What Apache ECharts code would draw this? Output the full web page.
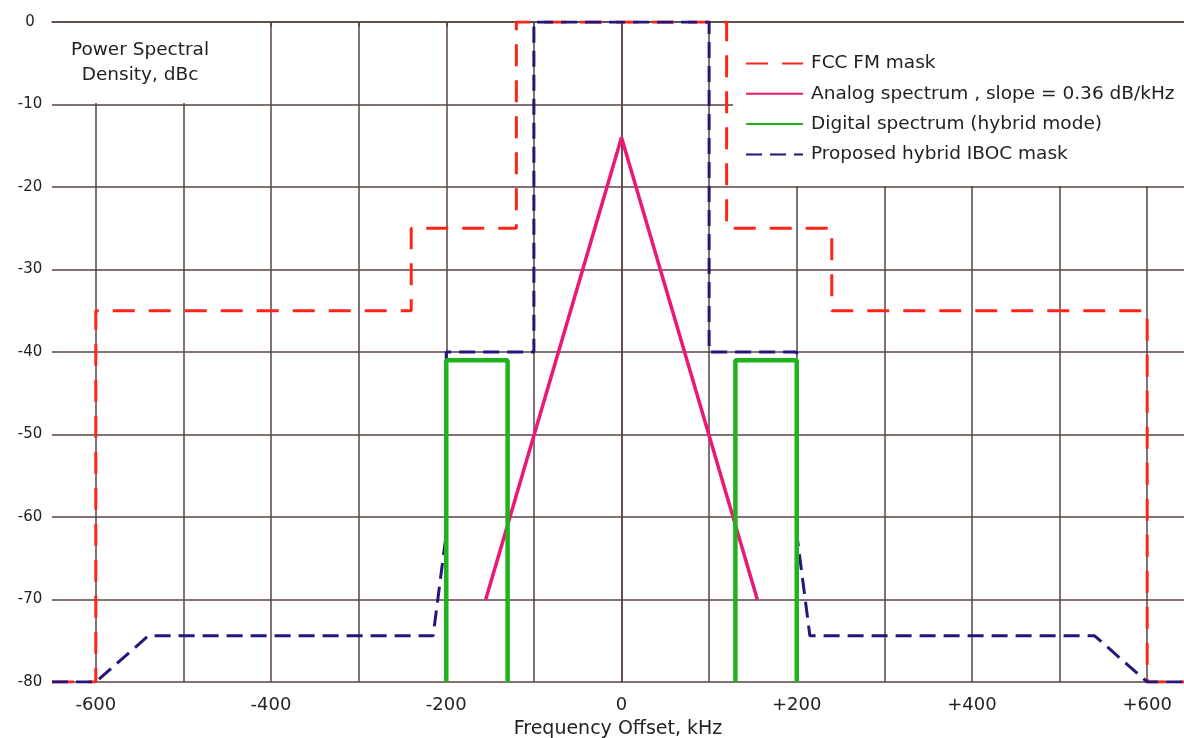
<!DOCTYPE html>
<html>
<head>
<meta charset="utf-8">
<script src="https://cdn.jsdelivr.net/npm/echarts@6/dist/echarts.min.js"></script>
<style>
  html, body { margin: 0; padding: 0; background: #fff; }
  #chart { width: 1184px; height: 738px; }
</style>
</head>
<body>
<div id="chart"></div>
<script>
// axis ticks, kHz / dBc
const xGridTicks = [-600, -500, -400, -300, -200, -100, 0, 100, 200, 300, 400, 500, 600];
const xLabelTicks = [-600, -400, -200, 0, 200, 400, 600];

// [offset kHz, level dBc]
const fccMask = [
  [-650, -80], [-600, -80], [-600, -35], [-240, -35], [-240, -25], [-120, -25], [-120, 0],
  [120, 0], [120, -25], [240, -25], [240, -35], [600, -35], [600, -80], [650, -80]
];
const analogSpectrum = [[-155, -70], [0, -14], [155, -70]];
const digitalLower = [[-200, -80], [-200, -41], [-130, -41], [-130, -80]];
const digitalUpper = [[130, -80], [130, -41], [200, -41], [200, -80]];
const ibocMask = [
  [-650, -80], [-600, -80], [-540, -74.4], [-215, -74.4], [-200, -62], [-200, -40], [-100, -40], [-100, 0],
  [100, 0], [100, -40], [200, -40], [200, -62], [215, -74.4], [540, -74.4], [600, -80], [650, -80]
];

const FONT = "DejaVu Sans";
const gridColor = "#5a4541";

const chart = echarts.init(document.getElementById("chart"));

chart.setOption({
  animation: false,
  textStyle: { fontFamily: FONT },
  grid: { left: 52, top: 22, right: 0, bottom: 56, outerBoundsMode: "none" },
  xAxis: {
    type: "value",
    min: -650,
    max: 642,
    name: "Frequency Offset, kHz",
    nameLocation: "middle",
    nameGap: 38,
    nameTextStyle: { fontFamily: FONT, fontSize: 19, color: "#222" },
    axisLine: { show: true, lineStyle: { color: gridColor, width: 1.5 } },
    axisTick: { show: true, length: 5, customValues: xGridTicks, lineStyle: { color: gridColor, width: 1.5 } },
    axisLabel: {
      customValues: xLabelTicks,
      margin: 14,
      fontSize: 18,
      color: "#222",
      formatter: (v) => (v > 0 ? "+" + v : String(v))
    },
    splitLine: { show: true, lineStyle: { color: gridColor, width: 1.5 } }
  },
  yAxis: {
    type: "value",
    min: -80,
    max: 0,
    interval: 10,
    axisLine: { show: true, lineStyle: { color: gridColor, width: 1.5 } },
    axisTick: { show: false },
    axisLabel: { margin: 22, align: "center", fontSize: 15, color: "#222" },
    splitLine: { show: true, lineStyle: { color: gridColor, width: 1.5 } }
  },
  graphic: [
    // white boxes behind the axis label and the legend
    { type: "rect", z: 1, shape: { x: 53, y: 23, width: 216, height: 80 }, style: { fill: "#fff" } },
    { type: "rect", z: 1, shape: { x: 733, y: 23, width: 460, height: 163 }, style: { fill: "#fff" } },
    {
      type: "text", z: 10, x: 140, y: 38,
      style: {
        text: "Power Spectral\nDensity, dBc",
        align: "center",
        font: "18.5px '" + FONT + "'", fill: "#222", lineHeight: 25
      }
    }
  ],
  legend: {
    orient: "vertical",
    left: 740,
    top: 49,
    itemWidth: 57,
    itemHeight: 14,
    itemGap: 11.3,
    itemStyle: { opacity: 0 },
    textStyle: { fontFamily: FONT, fontSize: 18.5, color: "#222", padding: [0, 0, 0, 3] },
    data: ["FCC FM mask", "Analog spectrum , slope = 0.36 dB/kHz", "Digital spectrum (hybrid mode)", "Proposed hybrid IBOC mask"]
  },
  series: [
    {
      name: "FCC FM mask", type: "line", data: fccMask, z: 2,
      symbol: "none", color: "#ff2418",
      lineStyle: { color: "#ff2418", width: 3, type: [22, 14] }
    },
    {
      name: "Analog spectrum , slope = 0.36 dB/kHz", type: "line", data: analogSpectrum, z: 3,
      symbol: "none", color: "#ec1876",
      lineStyle: { color: "#ec1876", width: 3.5 }
    },
    {
      name: "Proposed hybrid IBOC mask", type: "line", data: ibocMask, z: 4,
      symbol: "none", color: "#26157a",
      lineStyle: { color: "#26157a", width: 3, type: [16, 8] }
    },
    {
      name: "Digital spectrum (hybrid mode)", type: "line", data: digitalLower, z: 5,
      symbol: "none", color: "#1fb21f",
      lineStyle: { color: "#1fb21f", width: 4.5 }
    },
    {
      name: "Digital spectrum (hybrid mode)", type: "line", data: digitalUpper, z: 5,
      symbol: "none", color: "#1fb21f",
      lineStyle: { color: "#1fb21f", width: 4.5 }
    }
  ]
});
</script>
</body>
</html>
